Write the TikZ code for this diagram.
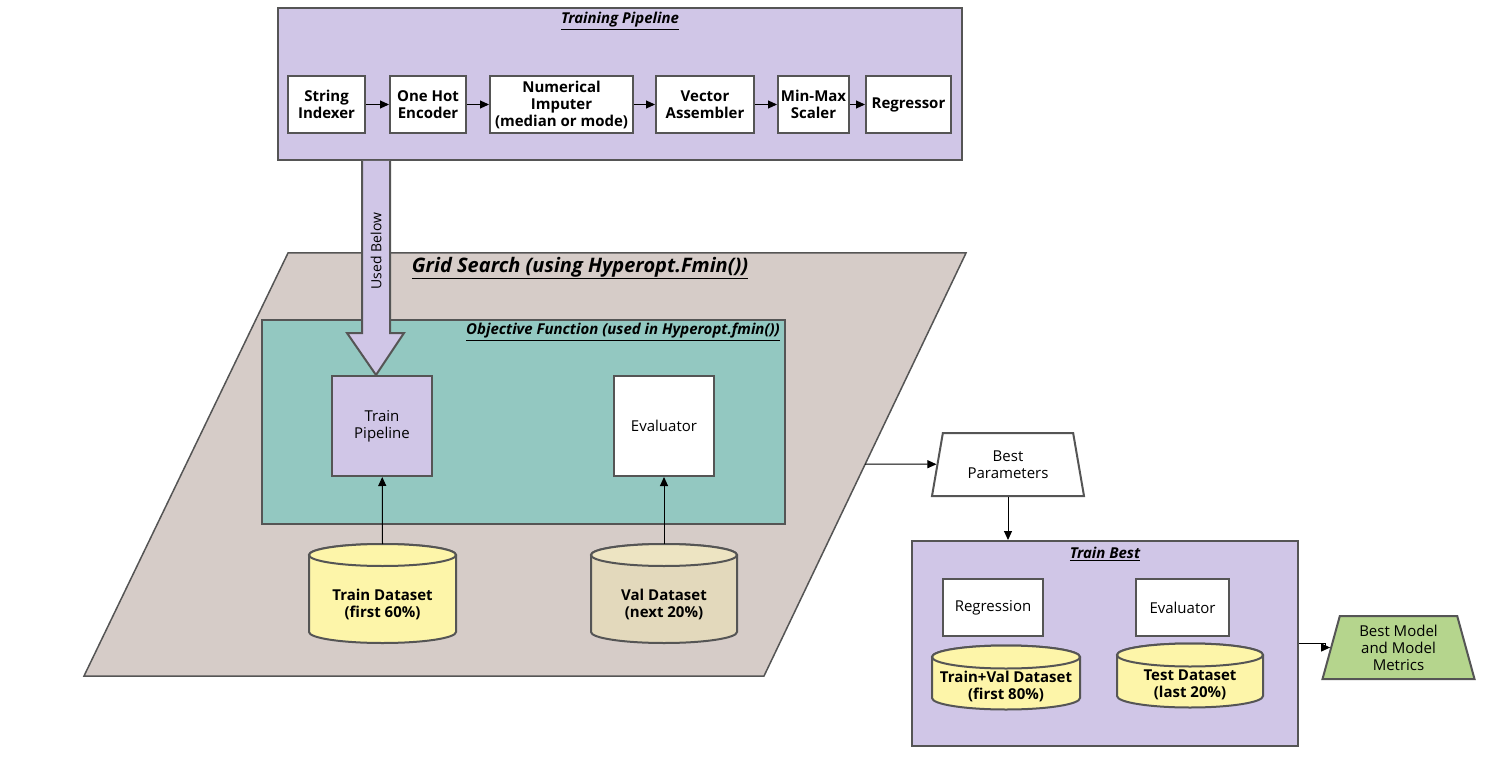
\documentclass[tikz,border=0pt]{standalone}
\usepackage{fontspec}
\setmainfont{Open Sans}
\usepackage{tikz}
\usetikzlibrary{arrows.meta,shapes.geometric}

\definecolor{framegray}{HTML}{555555}
\definecolor{lavender}{HTML}{D0C6E7}
\definecolor{taupe}{HTML}{D6CCC8}
\definecolor{tealbox}{HTML}{93C8C1}
\definecolor{dsyellow}{HTML}{FDF5A9}
\definecolor{dsval}{HTML}{E3D9BC}
\definecolor{dsvaltop}{HTML}{EDE4C2}
\definecolor{bestgreen}{HTML}{B5D58D}

\tikzset{
  frame/.style={draw=framegray, line width=2pt},
  container/.style={frame, inner sep=0pt},
  stage/.style={frame, fill=white, minimum height=57pt, inner sep=2pt, align=center,
    font=\fontsize{15}{17}\selectfont\bfseries},
  plainbox/.style={frame, fill=white, align=center, inner sep=2pt,
    font=\fontsize{15}{17}\selectfont},
  title/.style={inner sep=1pt, font=\fontsize{15}{18}\selectfont\bfseries\itshape},
  dbtext/.style={align=center, inner sep=1pt, font=\fontsize{15}{17}\selectfont\bfseries},
  drum/.style={draw=framegray, line width=2pt},
  outbox/.style={trapezium, trapezium left angle=70, trapezium right angle=70,
    trapezium stretches body, frame, minimum width=152pt, minimum height=63pt,
    inner sep=1pt, align=center, font=\fontsize{15}{17}\selectfont},
  link/.style={draw=black, line width=1pt, -{Triangle[length=9pt,width=8pt]}},
}

\begin{document}
\begin{tikzpicture}[x=1pt,y=-1pt]
  \useasboundingbox (0,0) rectangle (1498,783);

  % grid search
  \draw[draw=framegray, line width=1.5pt, fill=taupe] (288,253) -- (966,253) -- (764,676) -- (84,676) -- cycle;
  \coordinate (gsedge) at (865,464);
  \node[title, font=\fontsize{20}{24}\selectfont\bfseries\itshape] (gstitle) at (580,268)
    {\underline{Grid Search (using Hyperopt.Fmin())}};

  % objective function
  \node[container, fill=tealbox, minimum width=523pt, minimum height=204pt] (objfun) at (523.5,422) {};
  \node[title, anchor=east] (oftitle) at (781,332) {\underline{Objective Function (used in Hyperopt.fmin())}};
  \node[plainbox, fill=lavender, minimum width=100pt, minimum height=100pt] (trainpipe) at (382,426) {Train\\Pipeline};
  \node[plainbox, minimum width=100pt, minimum height=100pt] (evalgs) at (664,426) {Evaluator};

  % datasets
  \draw[drum, fill=dsyellow] (309,555) -- (309,632) arc[start angle=180, end angle=360, x radius=73.5pt, y radius=11pt]
    -- (456,555) arc[start angle=0, end angle=180, x radius=73.5pt, y radius=11pt] -- cycle;
  \draw[drum, fill=dsyellow] (382.5,555) ellipse[x radius=73.5pt, y radius=11pt];
  \coordinate (traintop) at (382.5,544);
  \node[dbtext] (trainds) at (382.5,604) {Train Dataset\\(first 60\%)};

  \draw[drum, fill=dsval] (591,555) -- (591,632) arc[start angle=180, end angle=360, x radius=73pt, y radius=11pt]
    -- (737,555) arc[start angle=0, end angle=180, x radius=73pt, y radius=11pt] -- cycle;
  \draw[drum, fill=dsvaltop] (664,555) ellipse[x radius=73pt, y radius=11pt];
  \coordinate (valtop) at (664,544);
  \node[dbtext] (valds) at (664,604) {Val Dataset\\(next 20\%)};

  \draw[link] (traintop) -- (trainpipe);
  \draw[link] (valtop) -- (evalgs);

  % training pipeline
  \node[container, fill=lavender, minimum width=684pt, minimum height=152pt] (pipeline) at (620,84) {};
  \node[title] (pltitle) at (620,21) {\underline{Training Pipeline}};
  \node[stage, minimum width=77pt] (stridx) at (326.5,104.5) {String\\Indexer};
  \node[stage, minimum width=76pt] (onehot) at (428,104.5) {One Hot\\Encoder};
  \node[stage, minimum width=143pt] (numimp) at (561.5,104.5) {Numerical\\Imputer\\(median or mode)};
  \node[stage, minimum width=98pt] (vecasm) at (705,104.5) {Vector\\Assembler};
  \node[stage, minimum width=71pt] (mmscale) at (813.5,104.5) {Min-Max\\Scaler};
  \node[stage, minimum width=85pt] (regr) at (908.5,104.5) {Regressor};
  \draw[link] (stridx) -- (onehot);
  \draw[link] (onehot) -- (numimp);
  \draw[link] (numimp) -- (vecasm);
  \draw[link] (vecasm) -- (mmscale);
  \draw[link] (mmscale) -- (regr);

  % used below
  \draw[frame, fill=lavender] (362,161) -- (362,333) -- (347,333) -- (376,375) -- (404,333) -- (390,333) -- (390,161);
  \node[rotate=90, inner sep=1pt, font=\fontsize{14}{16}\selectfont] (usedbelow) at (376,251) {Used Below};

  % best parameters
  \node[outbox, fill=white] (bestparam) at (1008,464.5) {Best\\Parameters};
  \draw[link] (gsedge) -- (bestparam);

  % train best
  \node[container, fill=lavender, minimum width=386pt, minimum height=205pt] (trainbest) at (1105,643.5) {};
  \node[title] (tbtitle) at (1105,554) {\underline{Train Best}};
  \node[plainbox, minimum width=100pt, minimum height=57pt] (regression) at (993,607.5) {Regression};
  \node[plainbox, minimum width=93pt, minimum height=57pt] (evaltb) at (1182.5,607.5) {Evaluator};

  \draw[drum, fill=dsyellow] (932,657) -- (932,698) arc[start angle=180, end angle=360, x radius=74pt, y radius=11.5pt]
    -- (1080,657) arc[start angle=0, end angle=180, x radius=74pt, y radius=11.5pt] -- cycle;
  \draw[drum, fill=dsyellow] (1006,657) ellipse[x radius=74pt, y radius=11.5pt];
  \node[dbtext] (trvalds) at (1006,686) {Train+Val Dataset\\(first 80\%)};

  \draw[drum, fill=dsyellow] (1117,655) -- (1117,696) arc[start angle=180, end angle=360, x radius=73pt, y radius=11.5pt]
    -- (1263,655) arc[start angle=0, end angle=180, x radius=73pt, y radius=11.5pt] -- cycle;
  \draw[drum, fill=dsyellow] (1190,655) ellipse[x radius=73pt, y radius=11.5pt];
  \node[dbtext] (testds) at (1190,685) {Test Dataset\\(last 20\%)};

  \draw[link] (bestparam.south) -- (bestparam.south |- trainbest.north);

  % best model
  \node[outbox, fill=bestgreen] (bestmodel) at (1398.5,647.5) {Best Model\\and Model\\Metrics};
  \draw[link] (trainbest.east) -- ++(26,0) |- (bestmodel.west);
\end{tikzpicture}
\end{document}
